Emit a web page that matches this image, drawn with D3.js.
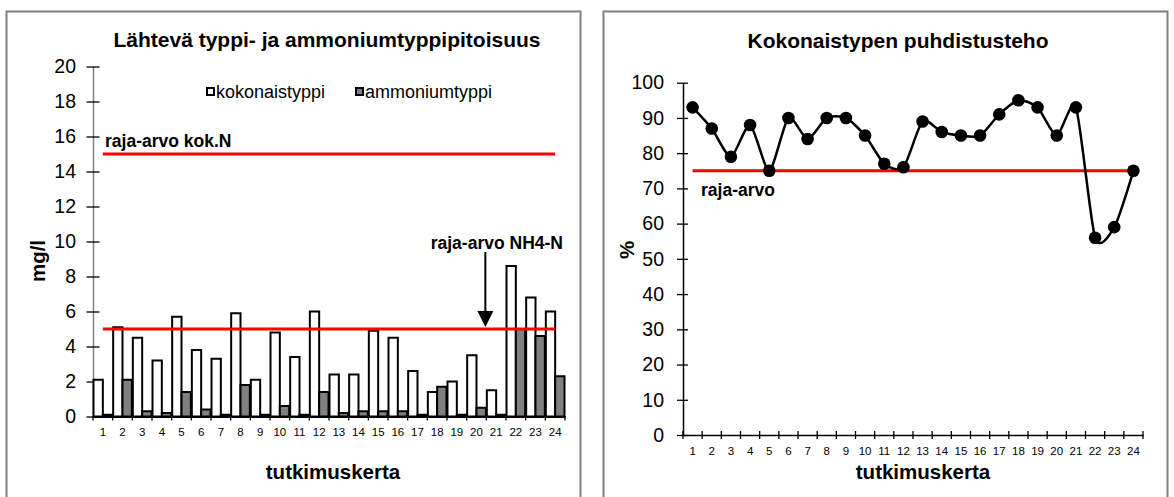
<!DOCTYPE html>
<html><head><meta charset="utf-8">
<script src="https://cdn.jsdelivr.net/npm/d3@7"></script>
<style>body{margin:0;background:#fff}svg{display:block;font-family:"Liberation Sans",Arial,sans-serif}</style>
</head><body>
<svg id="c" width="1174" height="497"></svg>
<script>
const categories = ["1","2","3","4","5","6","7","8","9","10","11","12","13","14","15","16","17","18","19","20","21","22","23","24"];
const kokonaistyppi = [2.1,5.1,4.5,3.2,5.7,3.8,3.3,5.9,2.1,4.8,3.4,6.0,2.4,2.4,4.9,4.5,2.6,1.4,2.0,3.5,1.5,8.6,6.8,6.0];
const ammoniumtyppi = [0.1,2.1,0.3,0.2,1.4,0.4,0.1,1.8,0.1,0.6,0.1,1.4,0.2,0.3,0.3,0.3,0.1,1.7,0.1,0.5,0.1,5.0,4.6,2.3];
const puhdistusteho = [93,87,79,88,75,90,84,90,90,85,77,76,89,86,85,85,91,95,93,85,93,56,59,75];
const leftTicks = [0,2,4,6,8,10,12,14,16,18,20];
const rightTicks = [0,10,20,30,40,50,60,70,80,90,100];
const limitKokN = 15, limitNH4 = 5, limitEff = 75;

const svg = d3.select("#c");
// frames
svg.append("rect").attr("x",6.5).attr("y",11.5).attr("width",574).attr("height",495).attr("fill","none").attr("stroke","#808080").attr("stroke-width",2);
svg.append("rect").attr("x",603.5).attr("y",11.5).attr("width",564).attr("height",495).attr("fill","none").attr("stroke","#808080").attr("stroke-width",2);

// ---------- LEFT CHART ----------
const xL = d3.scaleBand().domain(categories).range([93,565]).padding(0);
const yL = d3.scaleLinear().domain([0,20]).range([416.5,66.5]);
const gL = svg.append("g");

gL.append("text").attr("x",327).attr("y",47).attr("text-anchor","middle").attr("font-weight","bold").attr("font-size",21).text("Lähtevä typpi- ja ammoniumtyppipitoisuus");

// y axis
const yAxL = d3.axisLeft(yL).tickValues(leftTicks).tickSize(0).tickPadding(0);
const yg = gL.append("g").attr("transform","translate(93,0)").call(yAxL);
yg.select(".domain").attr("stroke","#808080").attr("stroke-width",1.5);
yg.selectAll(".tick text").attr("x",-17).attr("font-size",19.5).attr("fill","#000").attr("font-family","Liberation Sans, Arial, sans-serif");
yg.selectAll(".tick").append("line").attr("x1",-6.5).attr("x2",6.5).attr("stroke","#000").attr("stroke-width",1.3);

// bars
const bw = xL.bandwidth()/2;
gL.selectAll("rect.k").data(kokonaistyppi).join("rect").attr("class","k")
  .attr("x",(d,i)=>xL(categories[i])+0.5).attr("width",bw-0.5)
  .attr("y",d=>yL(d)).attr("height",d=>yL(0)-yL(d))
  .attr("fill","#fff").attr("stroke","#000").attr("stroke-width",2);
gL.selectAll("rect.a").data(ammoniumtyppi).join("rect").attr("class","a")
  .attr("x",(d,i)=>xL(categories[i])+bw).attr("width",bw-0.5)
  .attr("y",d=>yL(d)).attr("height",d=>yL(0)-yL(d))
  .attr("fill","#808080").attr("stroke","#000").attr("stroke-width",2);

// x axis
const xAxL = d3.axisBottom(xL).tickSize(0).tickPadding(11);
const xg = gL.append("g").attr("transform",`translate(0,${yL(0)})`).call(xAxL);
xg.select(".domain").attr("stroke","#000").attr("stroke-width",2);
xg.selectAll(".tick text").attr("font-size",11.5).attr("fill","#000").attr("font-family","Liberation Sans, Arial, sans-serif");
const bounds = categories.map(c=>xL(c)).concat([xL.range()[1]]);
xg.selectAll("line.b").data(bounds).join("line").attr("class","b")
  .attr("x1",d=>d).attr("x2",d=>d).attr("y1",0).attr("y2",4).attr("stroke","#000").attr("stroke-width",1.3);

// limit lines
const cx0 = xL(categories[0])+xL.bandwidth()/2, cx1 = xL(categories[23])+xL.bandwidth()/2;
[limitKokN, limitNH4].forEach(v=>{
  gL.append("line").attr("x1",cx0).attr("x2",cx1).attr("y1",yL(v)).attr("y2",yL(v)).attr("stroke","#ff0000").attr("stroke-width",3);
});
gL.append("text").attr("x",105).attr("y",146.5).attr("font-weight","bold").attr("font-size",17.5).text("raja-arvo kok.N");
gL.append("text").attr("x",563).attr("y",249).attr("text-anchor","end").attr("font-weight","bold").attr("font-size",17.5).text("raja-arvo NH4-N");
const ax = xL("20")+xL.bandwidth()*0.95;
gL.append("line").attr("x1",ax).attr("x2",ax).attr("y1",252).attr("y2",313).attr("stroke","#000").attr("stroke-width",2);
gL.append("path").attr("d",`M${ax-8},311 L${ax+8},311 L${ax},327 Z`).attr("fill","#000");

// legend
const lg = gL.append("g");
lg.append("rect").attr("x",207).attr("y",88).attr("width",7).attr("height",7).attr("fill","#fff").attr("stroke","#000").attr("stroke-width",2);
lg.append("text").attr("x",216).attr("y",97.5).attr("font-size",18).text("kokonaistyppi");
lg.append("rect").attr("x",356).attr("y",88).attr("width",7).attr("height",7).attr("fill","#808080").attr("stroke","#000").attr("stroke-width",2);
lg.append("text").attr("x",365).attr("y",97.5).attr("font-size",18).text("ammoniumtyppi");

gL.append("text").attr("x",333).attr("y",479).attr("text-anchor","middle").attr("font-weight","bold").attr("font-size",20.5).text("tutkimuskerta");
gL.append("text").attr("transform","translate(45,261) rotate(-90)").attr("text-anchor","middle").attr("font-weight","bold").attr("font-size",20.5).text("mg/l");

// ---------- RIGHT CHART ----------
const xR = d3.scaleBand().domain(categories).range([683,1143]).padding(0);
const yR = d3.scaleLinear().domain([0,100]).range([435,82.7]);
const gR = svg.append("g");
gR.append("text").attr("x",898).attr("y",48).attr("text-anchor","middle").attr("font-weight","bold").attr("font-size",21).text("Kokonaistypen puhdistusteho");

const yAxR = d3.axisLeft(yR).tickValues(rightTicks).tickSize(0).tickPadding(0);
const yg2 = gR.append("g").attr("transform","translate(683,0)").call(yAxR);
yg2.select(".domain").attr("stroke","#000").attr("stroke-width",1.5);
yg2.selectAll(".tick text").attr("x",-19).attr("font-size",19.5).attr("fill","#000").attr("font-family","Liberation Sans, Arial, sans-serif");
yg2.selectAll(".tick").append("line").attr("x1",-6).attr("x2",5).attr("stroke","#000").attr("stroke-width",1.3);

const xAxR = d3.axisBottom(xR).tickSize(0).tickPadding(12);
const xg2 = gR.append("g").attr("transform",`translate(0,${yR(0)})`).call(xAxR);
xg2.select(".domain").attr("stroke","#000").attr("stroke-width",1.5);
xg2.selectAll(".tick text").attr("font-size",11.5).attr("fill","#000").attr("font-family","Liberation Sans, Arial, sans-serif");
const bounds2 = categories.map(c=>xR(c)).concat([xR.range()[1]]);
xg2.selectAll("line.b").data(bounds2).join("line").attr("class","b")
  .attr("x1",d=>d).attr("x2",d=>d).attr("y1",-4).attr("y2",4).attr("stroke","#000").attr("stroke-width",1.3);

const px = i=>xR(categories[i])+xR.bandwidth()/2;
gR.append("line").attr("x1",px(0)).attr("x2",px(23)).attr("y1",yR(limitEff)).attr("y2",yR(limitEff)).attr("stroke","#ff0000").attr("stroke-width",3);
gR.append("text").attr("x",701).attr("y",196).attr("font-weight","bold").attr("font-size",17.5).text("raja-arvo");

const line = d3.line().x((d,i)=>px(i)).y(d=>yR(d)).curve(d3.curveCardinal.tension(0.3));
gR.append("path").datum(puhdistusteho).attr("d",line).attr("fill","none").attr("stroke","#000").attr("stroke-width",2.5);
gR.selectAll("circle").data(puhdistusteho).join("circle").attr("cx",(d,i)=>px(i)).attr("cy",d=>yR(d)).attr("r",6.3).attr("fill","#000");

gR.append("text").attr("x",923).attr("y",479).attr("text-anchor","middle").attr("font-weight","bold").attr("font-size",20.5).text("tutkimuskerta");
gR.append("text").attr("transform","translate(634,250) rotate(-90)").attr("text-anchor","middle").attr("font-weight","bold").attr("font-size",20.5).text("%");
</script>
</body></html>
